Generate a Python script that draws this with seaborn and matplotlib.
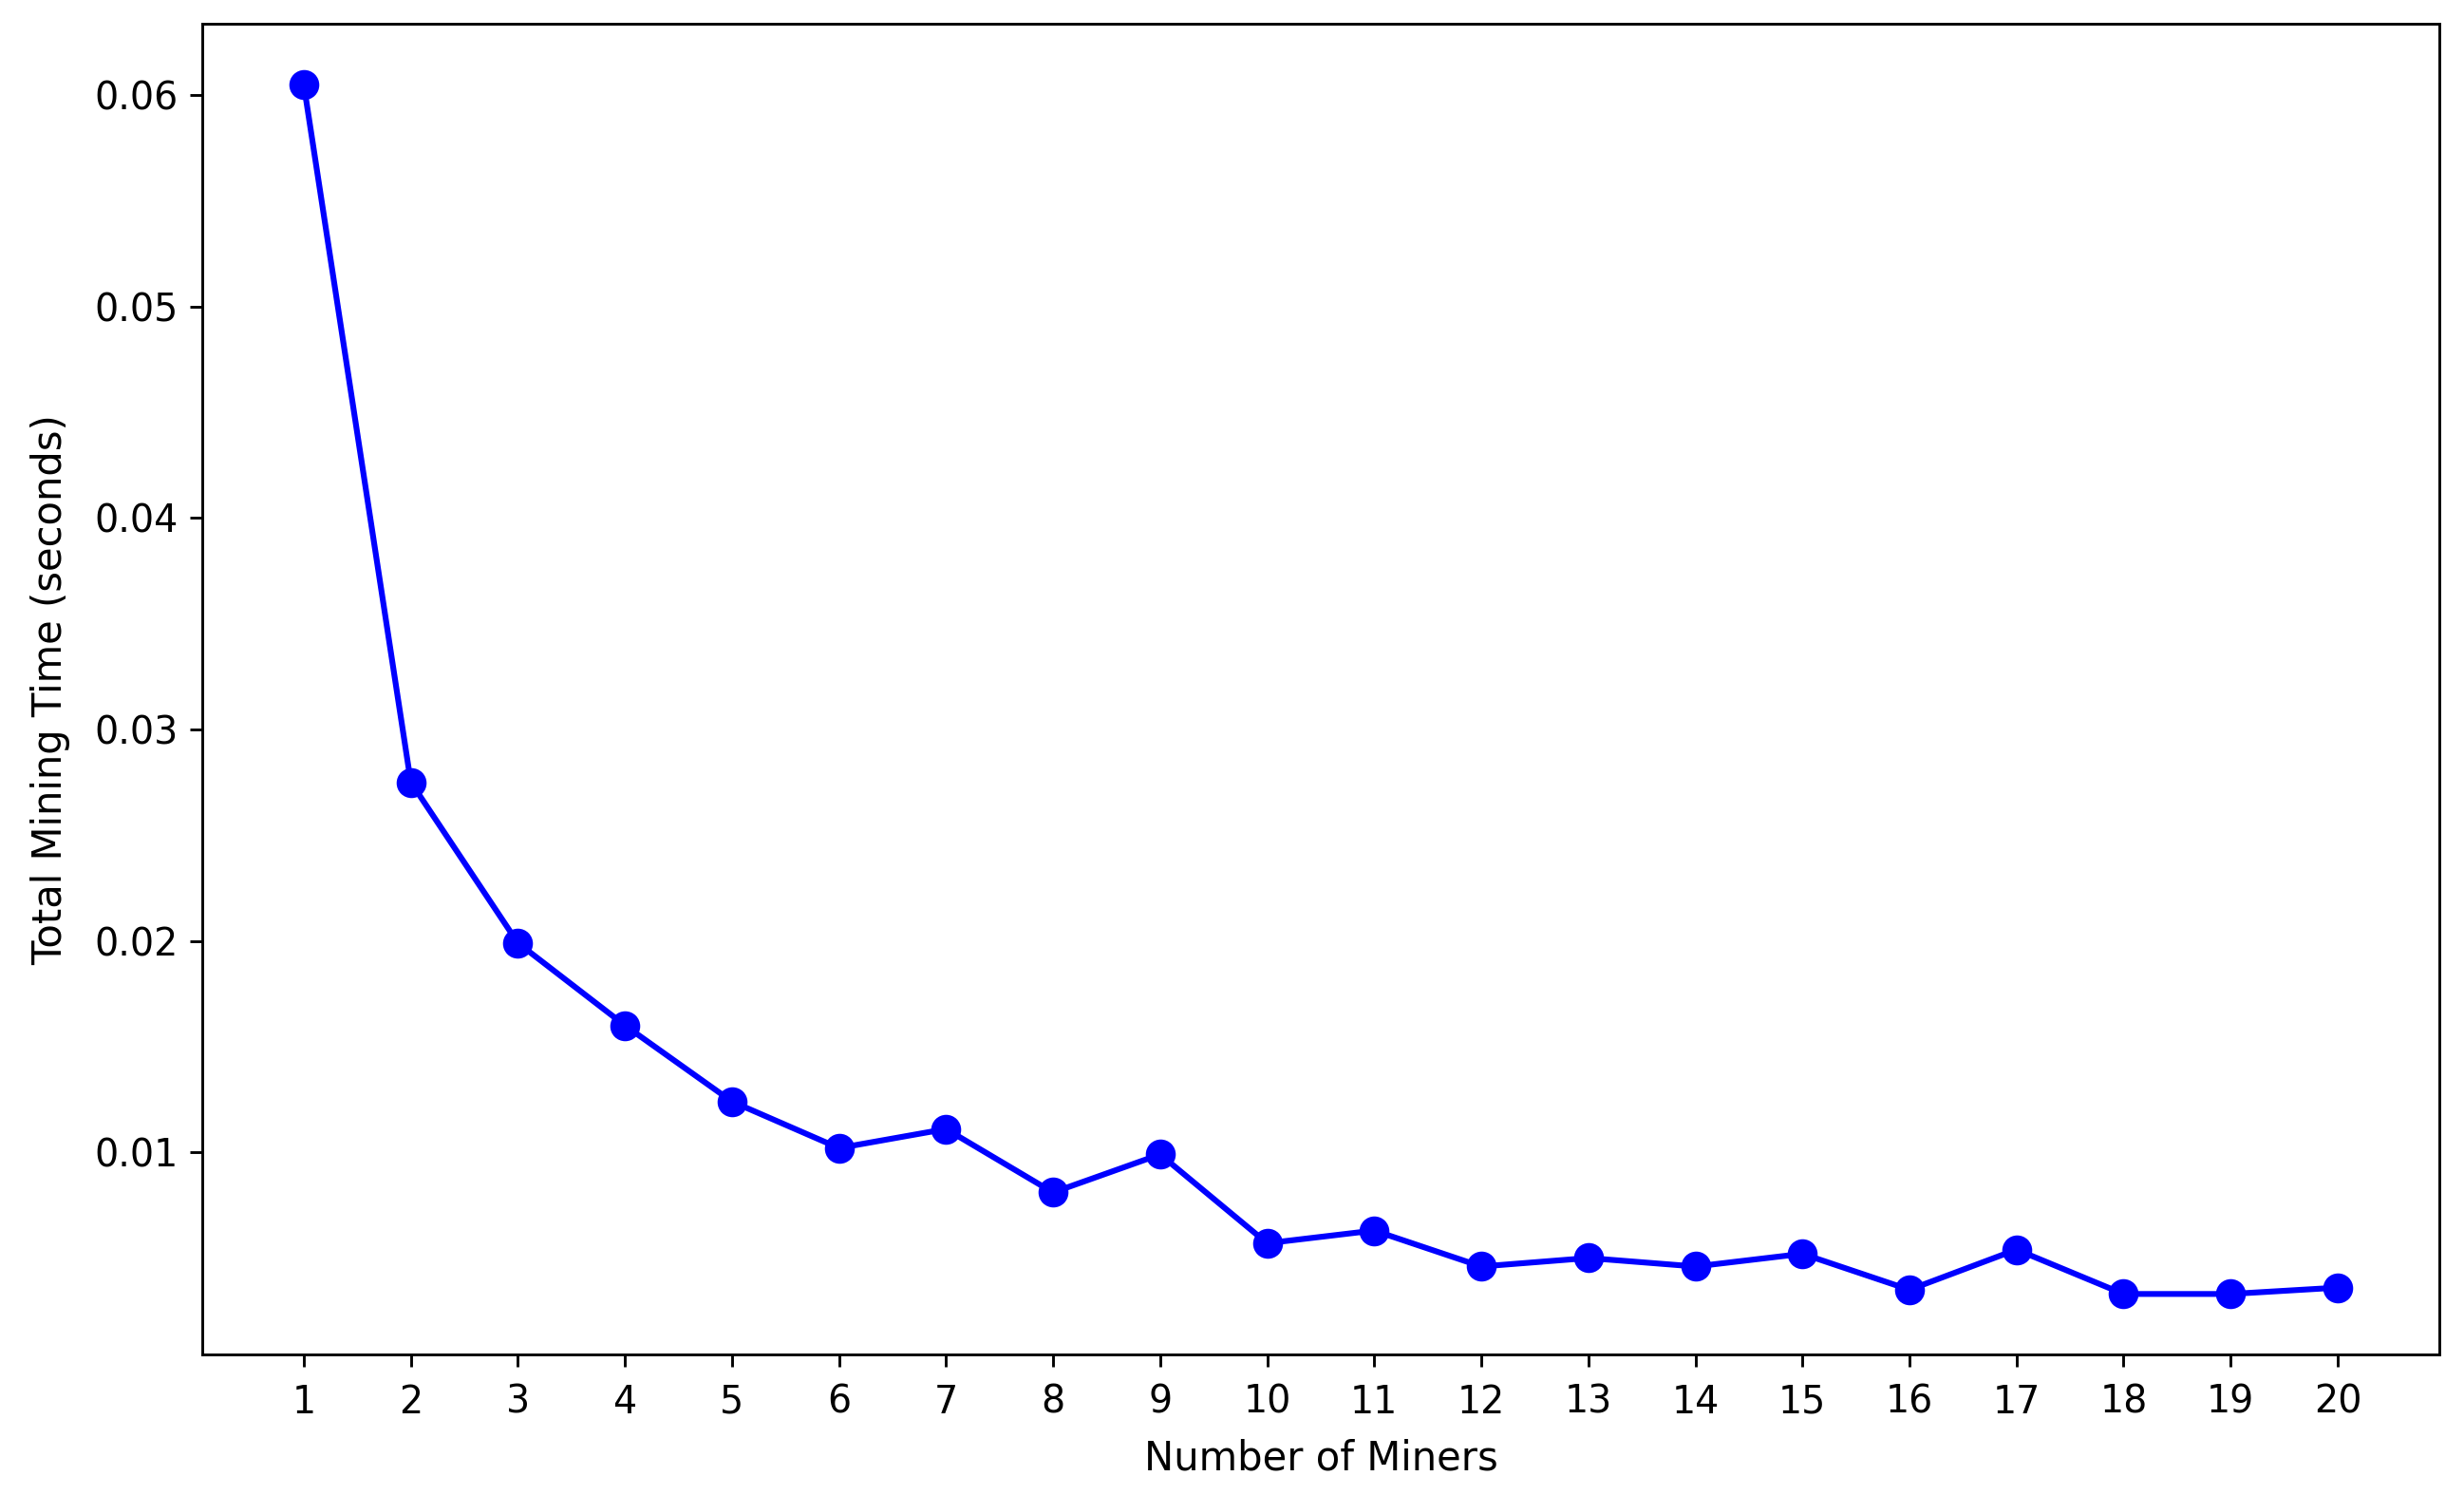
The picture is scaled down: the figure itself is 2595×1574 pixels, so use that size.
import matplotlib
matplotlib.use("Agg")
import matplotlib.pyplot as plt
import seaborn as sns
import pandas as pd

miners = list(range(1, 21))
mining_time = [0.0605, 0.0275, 0.0199, 0.0160, 0.0124, 0.0102, 0.0111, 0.0081,
               0.0099, 0.0057, 0.0063, 0.0046, 0.0050, 0.0046, 0.0052, 0.0035,
               0.0054, 0.0033, 0.0033, 0.0036]

df = pd.DataFrame({"Number of Miners": miners, "Total Mining Time (seconds)": mining_time})

fig = plt.figure(figsize=(10, 6.066), dpi=259.5)
ax = fig.add_axes([0.082, 0.094, 0.908, 0.890])
sns.lineplot(data=df, x="Number of Miners", y="Total Mining Time (seconds)",
             marker="o", color="blue", markersize=8, markeredgecolor="blue",
             linewidth=1.7, ax=ax)
ax.set_xticks(miners)
ax.tick_params(axis="both", labelsize=11)
ax.tick_params(axis="x", pad=5)
ax.set_xlabel("Number of Miners", fontsize=11.6, labelpad=5)
ax.set_ylabel("Total Mining Time (seconds)", fontsize=11.6, labelpad=7)
fig.savefig("out.png", dpi=259.5)
